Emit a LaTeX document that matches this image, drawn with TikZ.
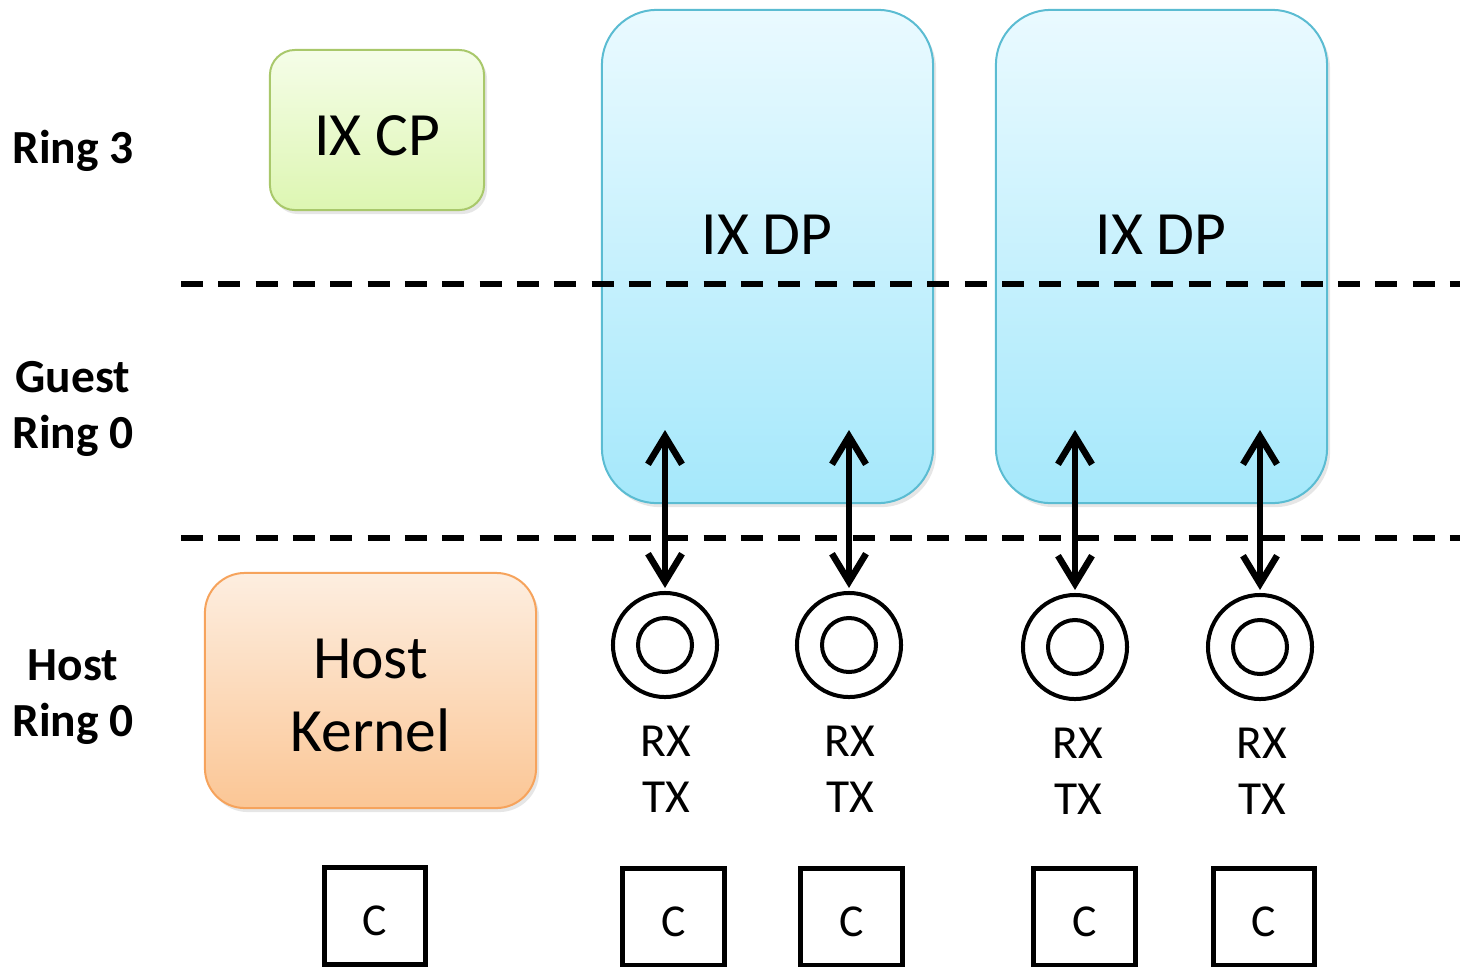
\documentclass[tikz,border=0pt]{standalone}
\usepackage{fontspec}
\setmainfont{Carlito}
\usepackage{xcolor}
\usetikzlibrary{arrows.meta,shadows}

\definecolor{cptop}{HTML}{F5FDE8}
\definecolor{cpbot}{HTML}{DDF6B2}
\definecolor{cpline}{HTML}{A9C86B}
\definecolor{dptop}{HTML}{EAFAFF}
\definecolor{dpbot}{HTML}{A5E8FB}
\definecolor{dpline}{HTML}{5BBCD2}
\definecolor{hktop}{HTML}{FDEEE0}
\definecolor{hkbot}{HTML}{FBC695}
\definecolor{hkline}{HTML}{F6A35C}

\begin{document}
\begin{tikzpicture}[x=0.01cm,y=-0.01cm,
    big/.style={font=\fontsize{17.5}{21}\selectfont,align=center},
    side/.style={font=\fontsize{13.5}{16}\selectfont\bfseries,align=center},
    trx/.style={font=\fontsize{13.5}{16}\selectfont,align=center},
    shade box/.style={line width=0.02cm,drop shadow={shadow xshift=0.03cm,shadow yshift=-0.04cm,opacity=0.2}},
    cpbox/.style={shade box,draw=cpline,top color=cptop,bottom color=cpbot,rounded corners=0.25cm,
      minimum width=2.14cm,minimum height=1.6cm},
    dpbox/.style={shade box,draw=dpline,top color=dptop,bottom color=dpbot,rounded corners=0.55cm,
      minimum width=3.31cm,minimum height=4.93cm},
    hkbox/.style={shade box,draw=hkline,top color=hktop,bottom color=hkbot,rounded corners=0.4cm,
      minimum width=3.31cm,minimum height=2.35cm},
    ring/.style={circle,draw,line width=0.04cm,minimum size=1.04cm,inner sep=0pt,
      path picture={\draw[line width=0.04cm] (path picture bounding box.center) circle (0.27cm);}},
    cbox/.style={draw,line width=0.05cm,minimum width=1.01cm,minimum height=0.96cm,inner sep=0pt,
      text height=0.39cm,font=\fontsize{13}{15}\selectfont},
    sep/.style={line width=0.055cm,dash pattern=on 0.22cm off 0.153cm},
    link/.style={{Straight Barb[length=0.28cm,width=0.34cm]}-{Straight Barb[length=0.28cm,width=0.34cm]},
      line width=0.065cm,shorten >=0.03cm}]
  \useasboundingbox (0,0) rectangle (1460,966);

  \node[side] (ring3) at (73,151) {Ring 3};
  \node[side] (guest) at (73,409) {Guest\\Ring 0};
  \node[side] (host) at (73,697) {Host\\Ring 0};

  \node[cpbox] (cp) at (377,130) {};
  \node[big] (cplabel) at (377,136) {IX CP};
  \node[dpbox] (dpa) at (767.5,256.5) {};
  \node[dpbox] (dpb) at (1161.5,256.5) {};
  \node[big] (dpalabel) at (767,235) {IX DP};
  \node[big] (dpblabel) at (1161,235) {IX DP};
  \node[hkbox] (hk) at (370.5,690.5) {};
  \node[big] (hklabel) at (370.5,695.5) {Host\\Kernel};

  \coordinate (sepa) at (181,284);
  \coordinate (sepb) at (1460,284);
  \coordinate (sepc) at (181,538);
  \coordinate (sepd) at (1460,538);
  \draw[sep] (sepa) -- (sepb);
  \draw[sep] (sepc) -- (sepd);

  \node[ring] (ra) at (665,645) {};
  \node[ring] (rb) at (849,645) {};
  \node[ring] (rc) at (1075,647) {};
  \node[ring] (rd) at (1260,647) {};

  \coordinate (ua) at (665,430);
  \coordinate (ub) at (849,430);
  \coordinate (uc) at (1075,430);
  \coordinate (ud) at (1260,430);
  \draw[link] (ua) -- (ra);
  \draw[link] (ub) -- (rb);
  \draw[link] (uc) -- (rc);
  \draw[link] (ud) -- (rd);

  \node[trx] (ta) at (666,769) {RX\\TX};
  \node[trx] (tb) at (850,769) {RX\\TX};
  \node[trx] (tc) at (1078,771) {RX\\TX};
  \node[trx] (td) at (1262,771) {RX\\TX};

  \node[cbox] (ca) at (375,916) {C};
  \node[cbox] (cb) at (673.5,917) {C};
  \node[cbox] (cc) at (851.5,917) {C};
  \node[cbox] (cd) at (1084.5,917) {C};
  \node[cbox] (ce) at (1264,917) {C};
\end{tikzpicture}
\end{document}
